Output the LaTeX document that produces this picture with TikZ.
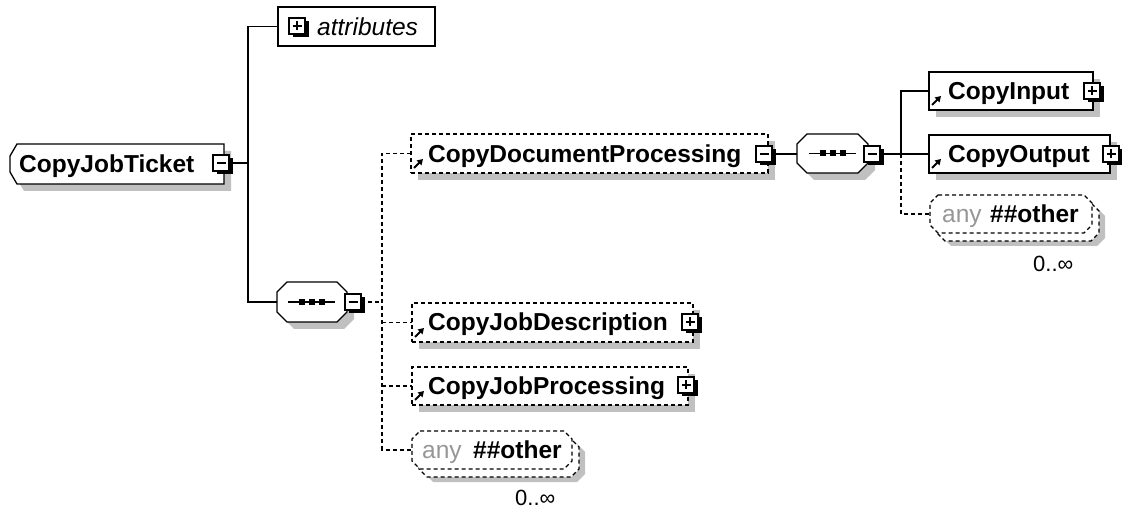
\documentclass[tikz,border=0pt]{standalone}
\usepackage{fontspec}
\setmainfont{Liberation Sans}
\usetikzlibrary{calc,arrows.meta}
\definecolor{shade}{RGB}{192,192,192}
\definecolor{wildgray}{RGB}{150,150,150}
\pgfdeclarelayer{shadows}
\pgfsetlayers{shadows,main}

\tikzset{
  elbox/.style={draw=black, line width=1.3pt, fill=white, inner sep=0pt, outer sep=0pt, anchor=north west},
  geom/.style={inner sep=0pt, outer sep=0pt, anchor=north west},
  optline/.style={dash pattern=on 4pt off 3pt},
  conn/.style={line width=1.4pt},
  outline/.style={draw=black, line width=1.3pt, fill=white},
  elname/.style={anchor=base west, inner sep=0pt, font=\fontsize{24.5}{28}\selectfont\bfseries},
  attrtext/.style={anchor=base west, inner sep=0pt, font=\fontsize{24.5}{28}\selectfont\itshape},
  anytext/.style={anchor=base west, inner sep=0pt, font=\fontsize{24.5}{28}\selectfont, text=wildgray},
  occtext/.style={anchor=base west, inner sep=0pt, font=\fontsize{22}{26}\selectfont},
  tglbox/.style={draw=black, line width=1.4pt, fill=white, minimum size=16pt, inner sep=0pt, outer sep=0pt, anchor=north west},
  refarrow/.style={line width=1.8pt, -{Triangle[length=5.5pt,width=6.5pt]}},
  octpath/.style n args={2}{insert path={
    ($(#1.north west)+(#2,0)$) -- ($(#1.north east)+(-#2,0)$) --
    ($(#1.north east)+(0,#2)$) -- ($(#1.south east)+(0,-#2)$) --
    ($(#1.south east)+(-#2,0)$) -- ($(#1.south west)+(#2,0)$) --
    ($(#1.south west)+(0,-#2)$) -- ($(#1.north west)+(0,#2)$) -- cycle}},
  leftcut/.style={insert path={
    ($(#1.north west)+(7,0)$) -- (#1.north east) -- (#1.south east) --
    ($(#1.south west)+(7,0)$) -- ($(#1.south west)+(0,-12)$) --
    ($(#1.north west)+(0,12)$) -- cycle}},
  shadowed/.style={fill=shade, transform canvas={shift={(#1pt,-#1pt)}}},
}

% expand/collapse button: name, x, y, 1 = plus / 0 = minus
\newcommand\xtoggle[4]{%
  \fill[black] ({#2+3.5},{#3+3.5}) rectangle ++(16,16);
  \node[tglbox] (#1) at (#2,#3) {};
  \draw[line width=1.5pt] ($(#1.west)+(3.5,0)$) -- ($(#1.east)+(-3.5,0)$);
  \ifnum#4=1 \draw[line width=1.5pt] ($(#1.north)+(0,3.5)$) -- ($(#1.south)+(0,-3.5)$);\fi
}
% reference marker in the lower left corner of an element box
\newcommand\xrefmark[1]{%
  \draw[refarrow] ($(#1.south west)+(3,-5)$) -- ($(#1.south west)+(12,-14)$);}
% sequence symbol inside a compositor
\newcommand\xseqdots[1]{%
  \draw[line width=1.4pt] ($(#1.center)+(-24,0)$) -- ($(#1.center)+(23,0)$);
  \fill ($(#1.center)+(-13,-3)$) rectangle ++(6,6);
  \fill ($(#1.center)+(-3,-3)$) rectangle ++(6,6);
  \fill ($(#1.center)+(7,-3)$) rectangle ++(6,6);}

\begin{document}
\begin{tikzpicture}[x=1pt, y=-1pt, line join=miter]
\path[use as bounding box] (0,0) rectangle (1122,510);

% ---------- root element ----------
\node[geom, minimum width=214pt, minimum height=40pt] (root) at (10,144) {};
\draw[outline, leftcut=root];
\node[elname] (rootname) at (19,172.5) {CopyJobTicket};
\xtoggle{roottog}{213}{155}{0}

% ---------- attributes ----------
\node[elbox, minimum width=157pt, minimum height=39pt] (attr) at (278,7) {};
\xtoggle{attrtog}{289}{18}{1}
\node[attrtext] (attrname) at (317,35.5) {attributes};

% ---------- first sequence ----------
\node[geom, minimum width=70pt, minimum height=40pt] (seq1) at (277,282) {};
\draw[outline, octpath={seq1}{10}];
\xseqdots{seq1}
\xtoggle{seq1tog}{345}{294}{0}

% ---------- CopyDocumentProcessing ----------
\node[elbox, optline, minimum width=357pt, minimum height=39pt] (cdp) at (411,134) {};
\node[elname] (cdpname) at (428,162.5) {CopyDocumentProcessing};
\xrefmark{cdp}
\xtoggle{cdptog}{756}{146}{0}

% ---------- second sequence ----------
\node[geom, minimum width=71pt, minimum height=39pt] (seq2) at (797,134) {};
\draw[outline, octpath={seq2}{10}];
\xseqdots{seq2}
\xtoggle{seq2tog}{864}{146}{0}

% ---------- CopyInput / CopyOutput ----------
\node[elbox, minimum width=164pt, minimum height=38pt] (cin) at (929,72) {};
\node[elname] (cinname) at (948,99.5) {CopyInput};
\xrefmark{cin}
\xtoggle{cintog}{1084}{83}{1}

\node[elbox, minimum width=181pt, minimum height=38pt] (cout) at (929,135) {};
\node[elname] (coutname) at (948,162.5) {CopyOutput};
\xrefmark{cout}
\xtoggle{couttog}{1103}{146}{1}

% ---------- wildcard under the second sequence ----------
\node[geom, minimum width=162pt, minimum height=38pt] (any2) at (930,195) {};
\draw[outline, optline, transform canvas={shift={(7pt,-8pt)}}, octpath={any2}{8}];
\draw[outline, optline, octpath={any2}{8}];
\node[anytext] (any2kw) at (942,222.5) {any};
\node[elname] (any2ns) at (990,222.5) {\#\#other};
\node[occtext] (any2occ) at (1033,272) {0..∞};

% ---------- CopyJobDescription / CopyJobProcessing ----------
\node[elbox, optline, minimum width=281pt, minimum height=39pt] (cjd) at (412,303) {};
\node[elname] (cjdname) at (428,331) {CopyJobDescription};
\xrefmark{cjd}
\xtoggle{cjdtog}{682}{314}{1}

\node[elbox, optline, minimum width=276pt, minimum height=38pt] (cjp) at (412,367) {};
\node[elname] (cjpname) at (428,394.5) {CopyJobProcessing};
\xrefmark{cjp}
\xtoggle{cjptog}{678}{377}{1}

% ---------- wildcard under the first sequence ----------
\node[geom, minimum width=160pt, minimum height=38pt] (any1) at (412,431) {};
\draw[outline, optline, transform canvas={shift={(7pt,-8pt)}}, octpath={any1}{8}];
\draw[outline, optline, octpath={any1}{8}];
\node[anytext] (any1kw) at (422,458.5) {any};
\node[elname] (any1ns) at (473,458.5) {\#\#other};
\node[occtext] (any1occ) at (515,505) {0..∞};

% ---------- connectors ----------
\coordinate (trunk) at (248,164);
\draw[conn] (roottog.east) -- (roottog.east -| trunk);
\draw[conn] (attr.west) -- (attr.west -| trunk) -- (seq1.west -| trunk) -- (seq1.west);

\coordinate (bus1) at (382,302);
\draw[conn, optline] (seq1tog.east) -- (seq1tog.east -| bus1);
\draw[conn, optline] (cdp.west) -- (cdp.west -| bus1) -- (any1.west -| bus1) -- (any1.west);
\draw[conn, optline] (cjd.west -| bus1) -- (cjd.west);
\draw[conn, optline] (cjp.west -| bus1) -- (cjp.west);

\draw[conn] (cdptog.east) -- (cdptog.east -| seq2.west);

\coordinate (bus2) at (901,154);
\draw[conn] (seq2tog.east) -- (seq2tog.east -| bus2);
\draw[conn] (cin.west) -- (cin.west -| bus2) -- (cout.west -| bus2) -- (cout.west);
\draw[conn, optline] (cout.west -| bus2) -- (any2.west -| bus2) -- (any2.west);

% ---------- shadows ----------
\begin{pgfonlayer}{shadows}
  \fill[shadowed=7, leftcut=root];
  \fill[shadowed=7, octpath={seq1}{10}];
  \fill[shadowed=7, octpath={seq2}{10}];
  \fill[shadowed=13, octpath={any1}{8}];
  \fill[shadowed=13, octpath={any2}{8}];
  \foreach \b in {cdp,cin,cout,cjd,cjp}
    \fill[shadowed=7] (\b.north west) rectangle (\b.south east);
\end{pgfonlayer}
\end{tikzpicture}
\end{document}
